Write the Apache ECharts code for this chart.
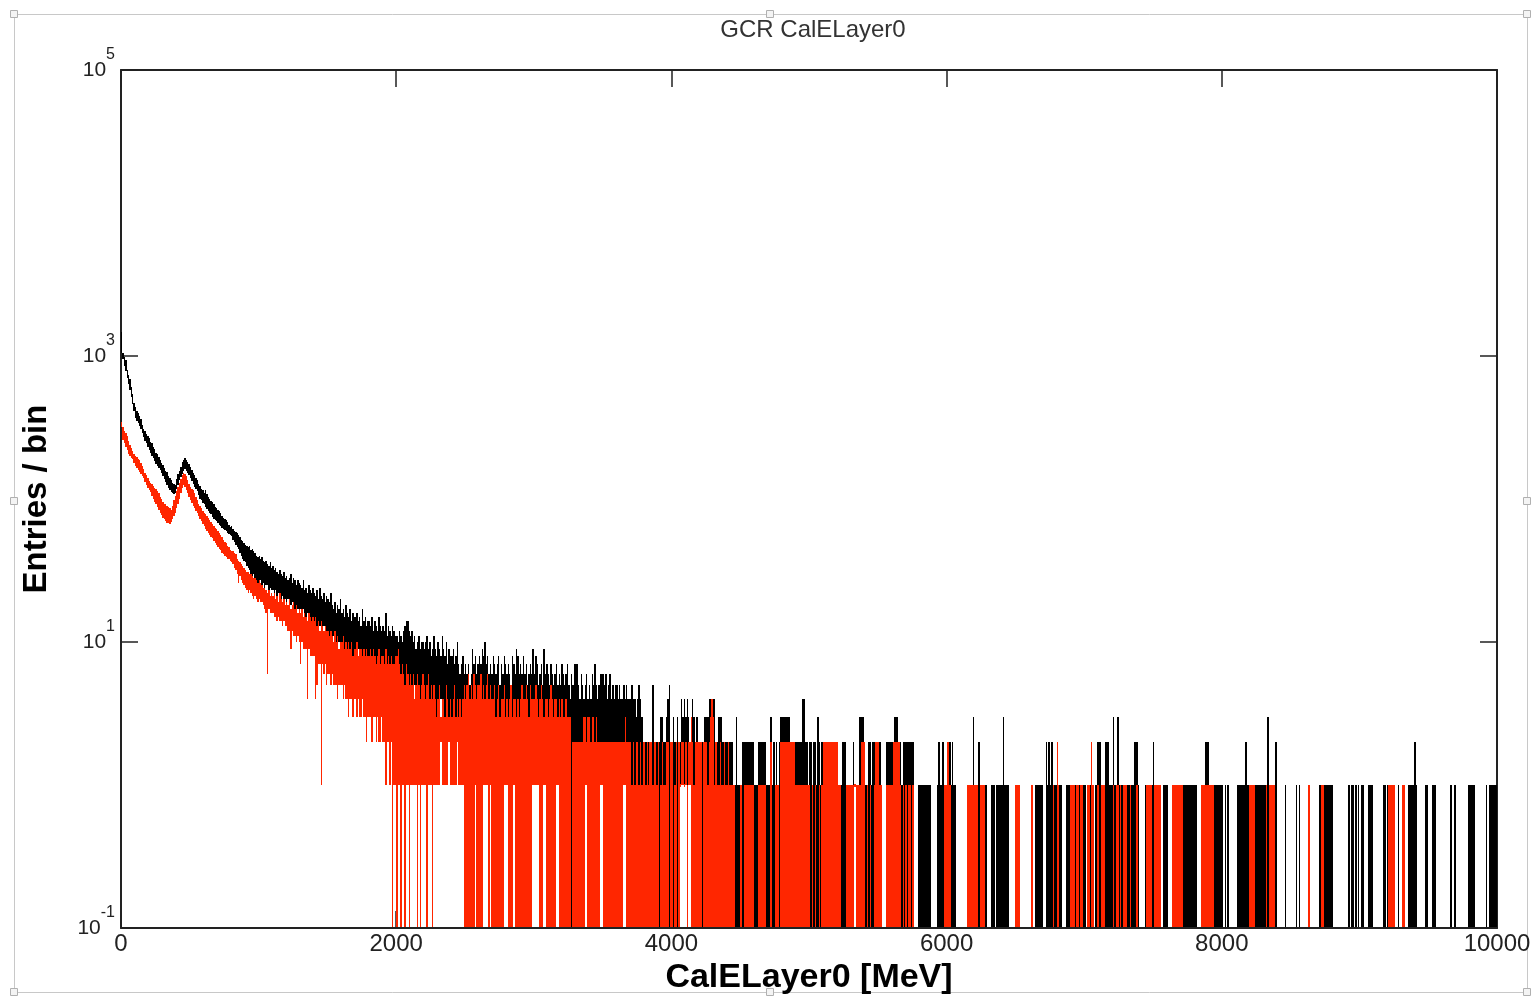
<!DOCTYPE html>
<html><head><meta charset="utf-8">
<script src="https://cdn.jsdelivr.net/npm/echarts@6/dist/echarts.min.js"></script>
<style>html,body{margin:0;padding:0;background:#fff}#c{width:1534px;height:996px}</style>
</head><body><div id="c"></div><script>
// Histogram read per 10 MeV column: highest and lowest bin content inside each column.
const BIN_MEV = 10;
const xTicks = [0, 2000, 4000, 6000, 8000, 10000];
const yTickExponents = [-1, 1, 3, 5];

// ---- black: all events ----
const blackHi0 = [1480,1050,980,940,800,740,690,610,540,470,
440,410,400,380,365,330,310,300,285,275,
265,250,245,232,225,210,205,196,188,178,
172,165,158,155,145,140,136,130,128,126,
138,150,158,168,180,188,192,186,182,176,
168,160,152,146,140,136,127,124,118,115,
111,116,108,104,100,97,96,92,88,86,
84,83,80,76,74,72,71,69,66,64,
65,62,60,59,58,56,54,52,51,49,
48,47,46,47,44,45,43,42,40,39];
const blackLo0 = [1050,960,850,780,700,640,580,520,460,410,
370,350,340,325,310,290,270,255,245,232,
220,210,200,192,185,176,170,165,160,152,
145,138,132,126,120,116,112,110,108,110,
118,125,135,142,150,158,162,158,152,148,
140,134,128,122,118,114,106,100,98,94,
92,88,85,82,80,78,75,73,71,70,
68,66,65,63,62,61,60,58,57,56,
55,52,50,48,46,45,42,40,38,37,
36,34,33,32,30,29,30,28,27,26];
const blackHi1 = [40,38,39,37,36,37,35,34,36,33,
34,32,33,31,30,32,30,29,31,28,
29,27,28,30,26,28,27,25,27,26,
25,24,27,23,24,22,25,23,22,24,
22,21,23,20,24,21,20,22,19,21,
20,19,22,18,17,19,16,18,17,20,
16,17,15,18,16,15,17,14,16,15,
15,16,14,15,13,17,14,15,13,14,
14,13,15,12,14,13,12,15,13,12,
13,12,16,11,13,12,11,13,12,11];
const blackLo1 = [26,27,25,26,24,25,25,23,24,23,
23,22,23,21,22,21,20,21,20,20,
19,20,19,18,19,18,17,18,17,17,
17,16,17,16,15,16,15,15,14,15,
14,14,13,14,13,13,12,13,12,12,
12,11,12,11,11,11,10,11,10,10,
10,10,9,10,9,9,9,9,8,9,
9,8,9,8,8,8,7,8,7,8,
7,7,8,7,7,6,7,6,7,6,
6,6,6,5,6,5,6,5,5,5];
const blackHi2 = [11,10,12,11,10,12,13,14,14,12,
11,12,10,11,9,10,11,9,10,10,
9,10,11,9,10,8,9,11,9,8,
10,9,8,11,9,8,10,7,9,8,
8,9,7,8,10,7,6,7,8,6,
7,6,7,5,6,9,7,8,6,7,
8,7,9,8,10,7,8,6,7,6,
8,7,6,7,8,5,7,6,8,7,
6,7,6,5,8,7,6,9,8,6,
7,6,8,6,7,5,6,7,6,9];
const blackLo2 = [6,5,6,5,6,5,5,6,5,5,
5,5,4,5,4,5,4,4,5,4,
4,4,5,4,4,4,3,4,4,3,
4,3,4,4,3,3,4,3,3,3,
3,3,3,2,3,3,2,3,3,2,
3,2,2,3,2,2,3,2,2,2,
2,3,2,2,2,3,2,2,2,2,
2,2,2,2,2,1,2,2,2,2,
2,2,1,2,2,2,2,1,2,2,
2,2,2,1,1,2,2,2,1,2];
const blackHi3 = [6,8,7,5,6,7,5,9,6,7,
6,5,7,6,5,6,7,5,6,5,
7,6,5,6,7,5,4,6,5,7,
7,7,5,4,6,5,4,5,6,4,
5,4,6,5,7,5,4,5,6,6,
6,5,6,4,5,6,4,5,4,5,
5,4,5,4,4,5,4,5,4,4,
4,5,4,4,3,4,5,4,3,2,
2,2,2,2,2,2,5,2,2,2,
2,2,3,3,2,2,3,4,5,2];
const blackLo3 = [2,2,2,2,2,1,2,2,2,2,
2,2,1,2,2,2,2,2,1,2,
2,2,2,1,2,2,2,0,2,1,
2,1,2,2,1,2,1,2,1,1,
1,1,1,2,1,1,1,1,1,1,
1,1,1,1,1,1,1,1,1,1,
1,1,1,1,1,1,1,1,1,1,
1,1,1,1,1,1,1,1,1,1,
1,1,1,1,1,1,1,1,1,1,
1,0,1,1,1,1,1,1,0,1];
const blackHi4 = [2,3,2,2,3,2,2,4,3,4,
3,4,3,2,3,4,3,2,3,2,
2,2,2,2,3,3,3,4,4,4,
4,4,2,2,3,3,3,2,2,2,
2,2,2,2,2,1,1,3,1,1,
1,2,2,2,2,2,2,2,2,2,
1,1,1,2,2,2,2,2,2,1,
1,1,3,1,2,1,2,1,2,3,
3,3,3,3,3,3,2,2,2,2,
2,2,2,2,2,4,4,2,2,1];
const blackLo4 = [0,0,0,0,0,0,1,1,1,1,
1,0,1,1,0,0,0,0,0,0,
0,0,0,0,0,0,0,0,0,0,
0,0,0,0,0,0,0,0,0,0,
0,0,0,0,0,0,0,0,0,0,
0,0,0,0,0,0,0,0,0,0,
0,0,0,0,0,0,0,0,0,0,
0,0,0,0,0,0,0,0,0,0,
0,0,0,0,0,0,0,0,0,0,
0,0,0,0,0,0,0,0,0,0];
const blackHi5 = [2,2,1,2,2,1,3,2,1,2,
2,2,2,2,2,2,2,2,2,2,
2,1,1,1,2,2,2,1,1,1,
1,1,2,1,1,1,3,3,3,3,
1,1,1,2,2,1,2,2,2,2,
2,2,1,0,0,0,2,2,2,2,
2,2,3,3,3,2,2,1,2,2,
2,2,2,2,2,2,0,0,0,1,
1,1,1,1,1,1,1,1,1,0,
0,0,0,1,2,1,1,2,1,1];
const blackLo5 = [0,0,0,0,0,0,0,0,0,0,
0,0,0,0,0,0,0,0,0,0,
0,0,0,0,0,0,0,0,0,0,
0,0,0,1,0,0,0,0,0,0,
0,0,0,0,0,0,0,0,0,0,
0,0,0,0,0,0,0,0,0,0,
0,0,0,0,0,0,0,0,0,0,
0,0,0,0,0,0,0,0,0,0,
0,0,0,0,0,0,0,0,0,0,
0,0,0,0,0,0,0,0,0,0];
const blackHi6 = [2,2,2,1,2,1,1,0,0,0,
0,0,0,0,0,1,1,1,1,3,
1,1,1,2,1,1,1,1,1,0,
0,0,1,1,1,0,1,1,1,1,
1,3,1,1,1,0,0,0,0,0,
1,1,1,0,0,0,0,0,0,0,
0,1,1,0,1,1,1,1,1,1,
0,0,2,1,2,1,2,1,1,1,
2,1,1,1,0,0,0,1,1,1,
1,1,1,1,1,1,1,0,1,1];
const blackHi7 = [1,0,1,1,1,1,1,0,1,2,
2,2,1,1,1,2,2,2,1,1,
1,3,1,1,3,1,1,1,1,1,
0,1,1,1,1,1,2,2,2,1,
0,0,0,0,1,1,1,1,1,1,
2,1,1,1,1,1,0,1,1,1,
1,0,0,0,1,1,1,1,1,1,
1,1,1,1,1,1,1,1,1,1,
1,1,0,0,0,1,1,1,2,2,
2,1,1,1,1,1,1,1,1,1];
const blackHi8 = [1,0,1,0,1,0,0,0,0,0,
0,1,1,1,1,1,1,2,1,1,
1,1,1,1,1,1,1,1,1,1,
1,1,1,3,1,1,1,1,1,2,
0,0,0,0,0,0,1,0,0,0,
0,0,0,0,1,0,1,0,0,0,
0,0,0,1,0,0,0,0,0,0,
0,1,1,1,1,1,1,1,1,1,
1,0,0,0,0,0,0,0,0,0,
0,0,1,0,1,1,0,1,0,1];
const blackHi9 = [0,1,1,0,0,0,1,1,1,1,
0,0,0,0,0,0,0,1,1,0,
1,1,1,1,1,1,0,0,1,0,
0,1,1,0,0,1,1,1,1,1,
2,1,0,0,0,0,0,0,1,1,
0,0,0,1,1,1,0,0,0,0,
0,0,0,0,0,0,1,0,0,1,
0,0,0,0,0,0,0,0,0,1,
1,1,1,1,0,0,0,0,0,0,
0,0,1,0,1,1,1,1,1,1];
// above 6000 MeV every filled column of either histogram reaches down to zero entries
const zeroLo6to9 = [0,0,0,0,0,0,0,0,0,0,0,0,0,0,0,0,0,0,0,0,0,0,0,0,0,0,0,0,0,0,0,0,0,0,0,0,0,0,0,0,0,0,0,0,0,0,0,0,0,0,
0,0,0,0,0,0,0,0,0,0,0,0,0,0,0,0,0,0,0,0,0,0,0,0,0,0,0,0,0,0,0,0,0,0,0,0,0,0,0,0,0,0,0,0,0,0,0,0,0,0,
0,0,0,0,0,0,0,0,0,0,0,0,0,0,0,0,0,0,0,0,0,0,0,0,0,0,0,0,0,0,0,0,0,0,0,0,0,0,0,0,0,0,0,0,0,0,0,0,0,0,
0,0,0,0,0,0,0,0,0,0,0,0,0,0,0,0,0,0,0,0,0,0,0,0,0,0,0,0,0,0,0,0,0,0,0,0,0,0,0,0,0,0,0,0,0,0,0,0,0,0,
0,0,0,0,0,0,0,0,0,0,0,0,0,0,0,0,0,0,0,0,0,0,0,0,0,0,0,0,0,0,0,0,0,0,0,0,0,0,0,0,0,0,0,0,0,0,0,0,0,0,
0,0,0,0,0,0,0,0,0,0,0,0,0,0,0,0,0,0,0,0,0,0,0,0,0,0,0,0,0,0,0,0,0,0,0,0,0,0,0,0,0,0,0,0,0,0,0,0,0,0,
0,0,0,0,0,0,0,0,0,0,0,0,0,0,0,0,0,0,0,0,0,0,0,0,0,0,0,0,0,0,0,0,0,0,0,0,0,0,0,0,0,0,0,0,0,0,0,0,0,0,
0,0,0,0,0,0,0,0,0,0,0,0,0,0,0,0,0,0,0,0,0,0,0,0,0,0,0,0,0,0,0,0,0,0,0,0,0,0,0,0,0,0,0,0,0,0,0,0,0,0];

// ---- red: selected events ----
const redHi0 = [348,320,300,290,275,255,240,226,215,208,
200,196,190,188,178,170,162,152,146,140,
134,130,128,124,120,117,114,110,104,100,
96,93,92,90,88,86,84,90,98,105,
114,122,130,138,148,152,150,145,136,128,
122,118,115,110,104,98,93,89,86,83,
80,78,76,74,71,69,67,65,63,62,
60,58,56,54,52,50,49,47,46,44,
43,43,42,41,38,37,36,35,34,33,
32,31,31,30,30,29,28,28,27,26];
const redLo0 = [320,258,245,232,220,205,200,194,190,178,
170,165,160,155,150,145,140,132,126,120,
116,112,105,100,96,92,88,84,80,77,
74,72,70,68,68,67,69,72,76,80,
86,92,100,110,120,125,122,116,110,104,
98,94,90,86,82,80,76,72,70,67,
65,62,60,58,56,54,53,51,49,48,
46,45,44,42,41,40,39,38,38,37,
36,35,33,32,30,26,29,27,26,25,
24,23,22,23,22,21,20,21,20,19];
const redHi1 = [27,26,25,24,24,23,22,23,21,22,
21,22,20,21,19,22,20,19,20,18,
19,18,20,17,18,19,17,18,16,17,
16,17,15,16,15,14,16,15,14,15,
14,15,13,14,12,14,13,12,13,12,
12,11,12,11,10,12,10,11,9,10,
10,11,9,10,9,10,9,10,8,9,
9,10,8,9,9,8,9,8,9,8,
8,9,8,9,8,7,8,9,7,8,
8,7,9,7,8,7,8,7,7,8];
const redLo1 = [20,19,19,18,17,16,6,17,16,16,
16,15,15,14,15,14,14,13,14,13,
13,12,12,9,12,11,11,10,11,10,
7,10,9,9,9,4,9,8,8,8,
8,4,5,7,7,1,7,6,7,5,
6,6,5,6,5,5,5,4,5,5,
5,4,5,4,4,3,4,4,3,4,
4,3,4,3,3,4,3,3,2,3,
3,3,2,3,3,2,3,2,2,3,
2,2,1,2,2,1,2,0,1,1];
const redHi2 = [8,9,7,6,7,6,5,7,6,5,
6,5,6,4,5,6,5,4,5,6,
5,4,5,6,4,5,4,5,4,3,
4,5,3,4,4,3,5,4,3,4,
3,4,5,3,4,3,4,3,4,5,
4,5,6,4,5,4,6,5,4,5,
5,6,4,5,4,5,6,4,5,4,
4,5,3,4,5,3,4,4,5,3,
4,3,4,5,3,4,4,3,4,3,
4,5,4,4,5,4,3,5,4,4];
const redLo2 = [0,1,1,0,1,1,0,1,1,0,
1,1,1,1,1,0,1,0,1,1,
1,1,0,1,1,1,0,1,1,1,
1,1,2,1,1,1,1,1,2,1,
1,1,1,1,2,1,1,1,1,0,
0,0,0,0,0,0,0,1,0,0,
0,0,0,1,1,1,1,0,1,0,
0,0,0,0,0,0,0,0,1,1,
1,0,0,0,0,1,0,0,0,0,
0,0,0,0,0,0,0,0,0,1];
const redHi3 = [4,5,4,3,4,5,4,3,4,4,
3,4,5,4,3,4,4,3,4,3,
4,3,3,4,3,3,3,0,2,2,
2,2,2,2,2,2,3,3,2,3,
3,2,3,3,2,3,2,2,2,2,
2,2,2,2,2,2,2,2,2,2,
2,2,2,2,2,2,3,2,2,2,
2,1,2,1,2,2,1,2,1,2,
2,1,2,1,2,2,1,2,2,1,
2,0,1,2,1,1,2,2,0,2];
const redLo3 = [1,1,1,1,0,0,0,1,1,0,
0,0,0,0,0,0,1,1,0,0,
0,0,0,0,0,0,0,0,0,0,
0,0,0,0,0,0,0,1,1,0,
0,0,0,0,0,0,0,0,1,1,
0,0,0,0,0,0,0,0,0,0,
0,0,0,0,0,1,1,0,0,0,
0,0,0,0,0,0,0,0,0,0,
0,0,0,0,0,0,0,0,0,0,
0,0,0,0,0,0,0,0,0,0];
const redHi4 = [2,0,1,2,0,2,1,2,2,1,
2,1,2,2,3,2,1,2,2,2,
2,2,0,2,2,2,1,2,3,4,
3,1,2,1,1,2,1,1,2,1,
1,2,1,1,1,1,0,0,0,0,
1,0,0,1,1,1,1,1,1,1,
0,0,0,1,1,1,1,1,1,0,
0,0,2,0,0,1,1,1,0,2,
2,2,2,2,2,2,2,2,2,2,
1,1,1,1,1,1,1,1,1,1];
const redLo4 = [0,0,0,0,0,0,1,1,1,1,
1,0,1,1,0,0,0,0,0,0,
0,0,0,0,0,0,0,0,0,0,
0,0,0,0,0,0,0,0,0,0,
0,0,0,0,0,0,0,0,0,0,
0,0,0,0,0,0,0,0,0,0,
0,0,0,0,0,0,0,0,0,0,
0,0,0,0,0,0,0,0,0,0,
0,0,0,0,0,0,0,0,0,0,
0,0,0,0,0,0,0,0,0,0];
const redHi5 = [1,0,1,0,1,0,0,1,0,1,
2,2,2,2,2,2,2,2,2,2,
2,1,1,0,0,0,0,1,1,1,
1,1,1,1,1,1,1,1,2,2,
2,0,1,0,1,0,0,1,2,2,
2,1,1,0,0,0,1,1,1,1,
1,2,2,2,2,2,1,0,1,0,
1,0,1,1,0,1,0,0,0,0,
0,0,0,0,0,0,0,0,0,0,
0,0,0,0,0,0,0,0,1,1];
const redLo5 = [0,0,0,0,0,0,0,0,0,0,
0,0,0,0,0,0,0,0,0,0,
0,0,0,0,0,0,0,0,0,0,
0,0,0,1,0,0,0,0,0,0,
0,0,0,0,0,0,0,0,0,0,
0,0,0,0,0,0,0,0,0,0,
0,0,0,0,0,0,0,0,0,0,
0,0,0,0,0,0,0,0,0,0,
0,0,0,0,0,0,0,0,0,0,
0,0,0,0,0,0,0,0,0,0];
const redHi6 = [2,2,1,0,0,0,0,0,0,0,
0,0,0,0,0,1,1,1,1,1,
1,1,1,0,1,1,1,1,0,0,
0,0,0,0,0,0,0,0,0,0,
0,0,0,0,0,0,0,0,0,0,
1,1,1,0,0,0,0,0,0,0,
0,1,1,0,0,0,0,0,0,0,
0,0,0,0,0,0,0,1,0,0,
2,1,0,0,0,0,0,0,0,0,
1,1,1,0,1,1,0,1,1,0];
const redHi7 = [0,0,1,1,0,2,1,0,0,1,
1,0,1,1,1,0,0,0,0,0,
0,1,0,1,1,0,1,0,1,1,
1,0,0,1,0,0,0,0,1,0,
0,0,0,0,0,1,1,1,1,0,
0,1,1,1,1,1,0,0,0,0,
0,0,0,0,1,1,1,1,1,1,
1,1,0,0,0,0,0,0,0,0,
0,0,0,0,0,1,1,1,1,1,
1,1,1,1,0,0,0,0,0,0];
const redHi8 = [0,0,0,0,0,0,0,0,0,0,
0,0,0,0,0,0,0,0,0,0,
1,1,1,1,0,0,0,0,0,0,
0,0,1,0,1,1,1,1,1,0,
0,0,0,0,0,0,0,0,0,0,
0,0,0,0,0,0,0,0,0,0,
0,0,0,1,0,0,0,0,0,0,
0,0,1,1,0,0,0,0,0,0,
0,0,0,0,0,0,0,0,0,0,
0,0,0,0,0,0,0,0,0,0];
const redHi9 = [0,0,0,0,0,0,0,0,0,0,
0,0,0,0,0,0,0,0,0,0,
0,1,1,1,1,1,0,0,0,0,
0,1,1,0,0,0,0,0,0,0,
0,0,0,0,0,0,0,0,0,0,
0,0,0,0,0,0,0,0,0,0,
0,0,0,0,0,0,0,0,0,0,
0,0,0,0,0,0,0,0,0,0,
0,0,0,0,0,0,0,0,0,0,
0,0,0,0,0,0,0,0,0,0];

const blackHi = [].concat(blackHi0,blackHi1,blackHi2,blackHi3,blackHi4,blackHi5,blackHi6,blackHi7,blackHi8,blackHi9);
const blackLo = [].concat(blackLo0,blackLo1,blackLo2,blackLo3,blackLo4,blackLo5,zeroLo6to9);
const redHi = [].concat(redHi0,redHi1,redHi2,redHi3,redHi4,redHi5,redHi6,redHi7,redHi8,redHi9);
const redLo = [].concat(redLo0,redLo1,redLo2,redLo3,redLo4,redLo5,zeroLo6to9);
[blackHi, blackLo, redHi, redLo].forEach((a, k) => { if (a.length !== 1000) throw new Error('array ' + k + ' has length ' + a.length); });

const Y_MIN = 0.1, Y_MAX = 100000;
const FONT = "'Liberation Sans', Arial, sans-serif";

function makeRender(hi, lo, color) {
  return function (params, api) {
    const i = params.dataIndex;
    const bottom = api.coord([0, Y_MIN])[1] - 1;
    const top = api.coord([0, Y_MAX])[1];
    const yOf = v => (v < Y_MIN ? bottom : Math.min(bottom, Math.max(top, api.coord([0, v])[1])));
    const x0 = Math.round(api.coord([i * BIN_MEV, Y_MIN])[0]);
    const x1 = Math.round(api.coord([(i + 1) * BIN_MEV, Y_MIN])[0]);
    const kids = [];
    if (hi[i] > 0) {
      let yh = Math.round(yOf(hi[i]));
      let yl = Math.round(yOf(lo[i]));
      if (yl - yh < 3) { const m = (yh + yl) / 2; yh = Math.round(m - 1.5); yl = yh + 3; }
      kids.push({ type: 'rect', shape: { x: x0, y: yh, width: Math.max(1, x1 - x0), height: yl - yh }, style: { fill: color } });
    }
    if (i + 1 < hi.length) {
      let a = null, b = null;
      if (lo[i + 1] > hi[i]) { a = hi[i]; b = lo[i + 1]; }
      else if (hi[i + 1] < lo[i]) { a = hi[i + 1]; b = lo[i]; }
      if (a !== null) {
        const ya = Math.round(yOf(a)), yb = Math.round(yOf(b));
        kids.push({ type: 'rect', shape: { x: x1 - 1, y: yb, width: 1, height: Math.max(1, ya - yb) }, style: { fill: color } });
      }
    }
    return { type: 'group', children: kids };
  };
}

function seriesData(hi) {
  return hi.map((v, i) => [i * BIN_MEV + BIN_MEV / 2, v > 0 ? v : Y_MIN]);
}

const chart = echarts.init(document.getElementById('c'), null, { renderer: 'canvas' });

const yLabel = {
  margin: 6,
  formatter: v => '{b|10}{s|' + Math.round(Math.log10(v)) + '}',
  rich: {
    b: { fontSize: 21, fontFamily: FONT, color: '#222' },
    s: { fontSize: 16, fontFamily: FONT, color: '#222', verticalAlign: 'top', padding: [0, 0, 30, 0] }
  }
};

const handles = [[14,14],[770,14],[1527,14],[14,501],[1527,501],[14,992],[770,992],[1527,992]];

chart.setOption({
  animation: false,
  backgroundColor: '#ffffff',
  title: {
    text: 'GCR CalELayer0', left: 808, top: 13, textAlign: 'center',
    textStyle: { fontSize: 24, fontWeight: 'normal', color: '#333', fontFamily: FONT }
  },
  graphic: [
    { type: 'rect', z: -10, shape: { x: 14.5, y: 14.5, width: 1513, height: 978 }, style: { fill: null, stroke: '#c8c8c8', lineWidth: 1 } }
  ].concat(handles.map(p => ({ type: 'rect', z: -9, shape: { x: p[0] - 3.5, y: p[1] - 3.5, width: 7, height: 7 }, style: { fill: '#f4f4f4', stroke: '#b0b0b0', lineWidth: 1 } }))),
  grid: { left: 121, right: 37, top: 70, bottom: 68, containLabel: false, outerBoundsMode: 'none' },
  xAxis: [
    {
      type: 'value', min: 0, max: 10000, interval: 2000, position: 'bottom', z: 5,
      axisLine: { show: true, onZero: false, lineStyle: { color: '#222', width: 2 } },
      axisTick: { show: true, inside: true, length: 17, lineStyle: { color: '#222', width: 1.5 } },
      splitLine: { show: false },
      axisLabel: { margin: 4, fontSize: 24, fontFamily: FONT, color: '#222', formatter: v => (xTicks.indexOf(v) >= 0 ? String(v) : '') },
      name: 'CalELayer0 [MeV]', nameLocation: 'middle', nameGap: 25,
      nameTextStyle: { fontSize: 34, fontWeight: 'bold', fontFamily: FONT, color: '#000' }
    },
    {
      type: 'value', min: 0, max: 10000, interval: 2000, position: 'top', z: 5,
      axisLine: { show: true, onZero: false, lineStyle: { color: '#222', width: 2 } },
      axisTick: { show: true, inside: true, length: 17, lineStyle: { color: '#222', width: 1.5 } },
      splitLine: { show: false }, axisLabel: { show: false }
    }
  ],
  yAxis: [
    {
      type: 'log', logBase: 10, min: Y_MIN, max: Y_MAX, interval: 2, position: 'left', z: 5,
      axisLine: { show: true, onZero: false, lineStyle: { color: '#222', width: 2 } },
      axisTick: { show: true, inside: true, length: 17, lineStyle: { color: '#222', width: 1.5 } },
      minorTick: { show: false }, splitLine: { show: false },
      axisLabel: yLabel,
      name: 'Entries / bin', nameLocation: 'middle', nameGap: 68, nameRotate: 90,
      nameTextStyle: { fontSize: 33, fontWeight: 'bold', fontFamily: FONT, color: '#000' }
    },
    {
      type: 'log', logBase: 10, min: Y_MIN, max: Y_MAX, interval: 2, position: 'right', z: 5,
      axisLine: { show: true, onZero: false, lineStyle: { color: '#222', width: 2 } },
      axisTick: { show: true, inside: true, length: 17, lineStyle: { color: '#222', width: 1.5 } },
      splitLine: { show: false }, axisLabel: { show: false }
    }
  ],
  series: [
    { type: 'custom', name: 'all', xAxisIndex: 0, yAxisIndex: 0, z: 6, renderItem: makeRender(blackHi, blackLo, '#000000'), data: seriesData(blackHi), encode: { x: 0, y: 1 } },
    { type: 'custom', name: 'selected', xAxisIndex: 0, yAxisIndex: 0, z: 7, renderItem: makeRender(redHi, redLo, '#ff2600'), data: seriesData(redHi), encode: { x: 0, y: 1 } }
  ]
});
</script></body></html>
